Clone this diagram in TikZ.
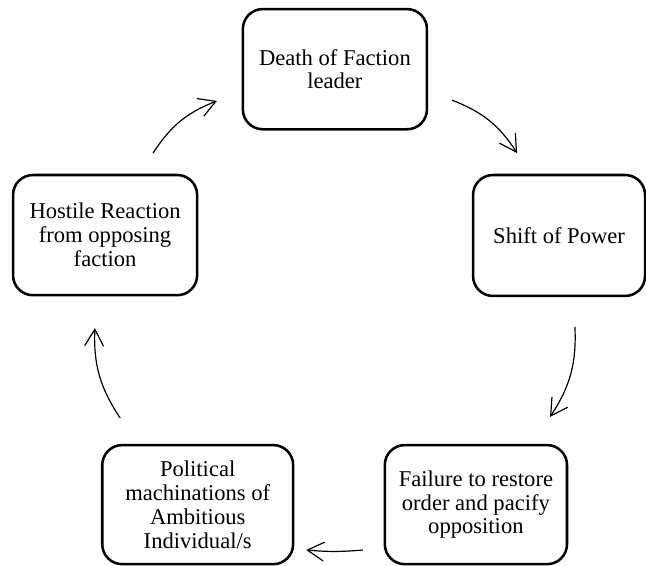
\documentclass[tikz,border=0pt]{standalone}
\usepackage{fontspec}
\setmainfont{Liberation Serif}
\usepackage{tikz}
\usetikzlibrary{arrows.meta}

\begin{document}
\begin{tikzpicture}[
    box/.style={rectangle, rounded corners=15pt, draw, line width=1.9pt, align=center,
        font=\fontsize{17}{18}\selectfont},
    arrow/.style={-{Straight Barb[length=4.4mm, width=5mm]}, line width=0.9pt, bend left=18}
]
\useasboundingbox (0,0) rectangle (17.09,14.95);

% Cycle boxes
\node[box, minimum width=4.87cm, minimum height=3.18cm] (death) at (8.86,13.12) {Death of Faction\\leader};
\node[box, minimum width=4.55cm, minimum height=3.20cm] (shift) at (14.79,8.72) {Shift of Power};
\node[box, minimum width=4.82cm, minimum height=3.15cm] (failure) at (12.59,1.60) {Failure to restore\\order and pacify\\opposition};
\node[box, minimum width=5.05cm, minimum height=3.15cm] (political) at (5.23,1.60) {Political\\machinations of\\Ambitious\\Individual/s};
\node[box, minimum width=4.87cm, minimum height=3.18cm] (hostile) at (2.78,8.73) {Hostile Reaction\\from opposing\\faction};

% Arrow ends
\coordinate (a1s) at (4.05,10.90);
\coordinate (a1e) at (5.74,12.28);
\coordinate (a2s) at (11.96,12.30);
\coordinate (a2e) at (13.68,10.90);
\coordinate (a3s) at (15.21,6.30);
\coordinate (a3e) at (14.55,3.92);
\coordinate (a4s) at (9.60,0.40);
\coordinate (a4e) at (8.10,0.40);
\coordinate (a5s) at (3.18,3.89);
\coordinate (a5e) at (2.51,6.27);

% Connections
\draw[arrow] (a1s) to (a1e);
\draw[arrow] (a2s) to (a2e);
\draw[arrow] (a3s) to (a3e);
\draw[arrow, bend left=5] (a4s) to (a4e);
\draw[arrow] (a5s) to (a5e);

\end{tikzpicture}
\end{document}
